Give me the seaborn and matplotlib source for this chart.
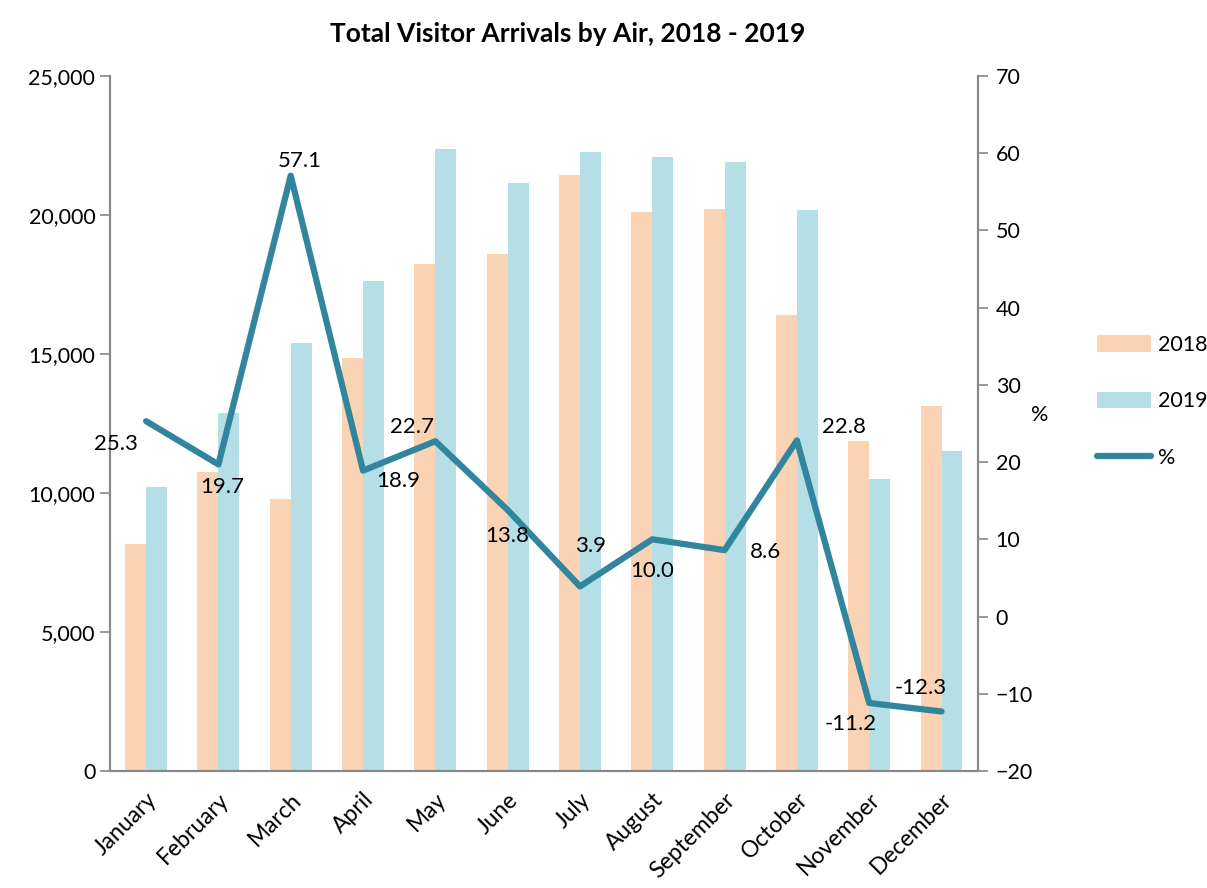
import numpy as np
import pandas as pd
import matplotlib
matplotlib.use("Agg")
import matplotlib.pyplot as plt
import seaborn as sns
from matplotlib.patches import Patch
from matplotlib.lines import Line2D

months = ["January", "February", "March", "April", "May", "June",
          "July", "August", "September", "October", "November", "December"]
arrivals_2018 = [8150, 10760, 9800, 14850, 18250, 18600,
                 21450, 20100, 20200, 16400, 11870, 13130]
arrivals_2019 = [10220, 12880, 15400, 17630, 22390, 21150,
                 22270, 22090, 21910, 20180, 10500, 11510]
pct_change = [25.3, 19.7, 57.1, 18.9, 22.7, 13.8, 3.9, 10.0, 8.6, 22.8, -11.2, -12.3]

# label placement (pixel offsets from each point)
label_offsets = [(-30, -23), (4, -23), (9, 15), (35, -10), (-23, 14), (0, -26),
                 (11, 40), (0, -32), (41, -2), (47, 13), (-19, -21), (-21, 24)]

c18 = "#FAD3B4"
c19 = "#B5DEE7"
cline = "#31859C"
grey = "#888888"
fs = 15.5

sns.set_style("white")
plt.rcParams["font.family"] = ["Lato", "DejaVu Sans"]
plt.rcParams["font.size"] = fs
plt.rcParams["text.color"] = "black"
plt.rcParams["axes.labelcolor"] = "black"
plt.rcParams["xtick.labelcolor"] = "black"
plt.rcParams["ytick.labelcolor"] = "black"

df = pd.DataFrame({
    "month": months * 2,
    "visitors": arrivals_2018 + arrivals_2019,
    "year": ["2018"] * 12 + ["2019"] * 12,
})

fig, ax = plt.subplots(figsize=(12.07, 8.88), dpi=100)
fig.subplots_adjust(left=0.0911, right=0.810, top=0.9144, bottom=0.1318)

sns.barplot(data=df, x="month", y="visitors", hue="year", order=months,
            palette=[c18, c19], width=0.58, saturation=1, linewidth=0,
            ax=ax, legend=False)
ax.set_ylim(0, 25000)
ax.set_yticks(np.arange(0, 25001, 5000))
ax.yaxis.set_major_formatter(matplotlib.ticker.StrMethodFormatter("{x:,.0f}"))
ax.set_xlim(-0.5, 11.5)
ax.set_xlabel("")
ax.set_ylabel("")
ax.set_xticks(np.arange(12))
ax.set_xticklabels(months, rotation=45, ha="right", rotation_mode="anchor")
ax.set_xticks(np.arange(-0.5, 12, 1), minor=True)
ax.tick_params(axis="x", which="major", length=0, pad=13, labelsize=16.5)
ax.tick_params(axis="x", which="minor", length=7, color=grey, width=1.2)
ax.tick_params(axis="y", length=7, color=grey, width=1.2, labelsize=fs, left=True)

ax2 = ax.twinx()
sns.lineplot(x=months, y=pct_change, sort=False, color=cline, linewidth=4.5,
             solid_capstyle="round", ax=ax2)
ax2.set_ylim(-20, 70)
ax2.set_yticks(np.arange(-20, 71, 10))
ax2.tick_params(axis="y", length=7, color=grey, width=1.2, labelsize=fs, right=True, pad=6)
ax2.set_ylabel("%", rotation=0, fontsize=fs, va="center", ha="center")
ax2.yaxis.set_label_coords(1.071, 0.512)

for i, (v, (dx, dy)) in enumerate(zip(pct_change, label_offsets)):
    ax2.annotate(f"{v:.1f}", (i, v), xytext=(dx, dy), textcoords="offset pixels",
                 ha="center", va="center", fontsize=16)

for a in (ax, ax2):
    for side in ("left", "right", "bottom"):
        a.spines[side].set_color(grey)
        a.spines[side].set_linewidth(1.5)
    a.spines["top"].set_visible(False)
    a.grid(False)

handles = [Patch(facecolor=c18, edgecolor="none"),
           Patch(facecolor=c19, edgecolor="none"),
           Line2D([0], [0], color=cline, linewidth=4.5, solid_capstyle="round")]
fig.legend(handles, ["2018", "2019", "%"], loc="center left",
           bbox_to_anchor=(0.893, 0.548), frameon=False, fontsize=fs,
           handlelength=2.5, handleheight=0.8, labelspacing=1.7, handletextpad=0.3)

fig.suptitle("Total Visitor Arrivals by Air, 2018 - 2019", fontsize=19,
             fontweight="bold", x=0.47, y=0.975)

fig.savefig("out.png", dpi=100)
